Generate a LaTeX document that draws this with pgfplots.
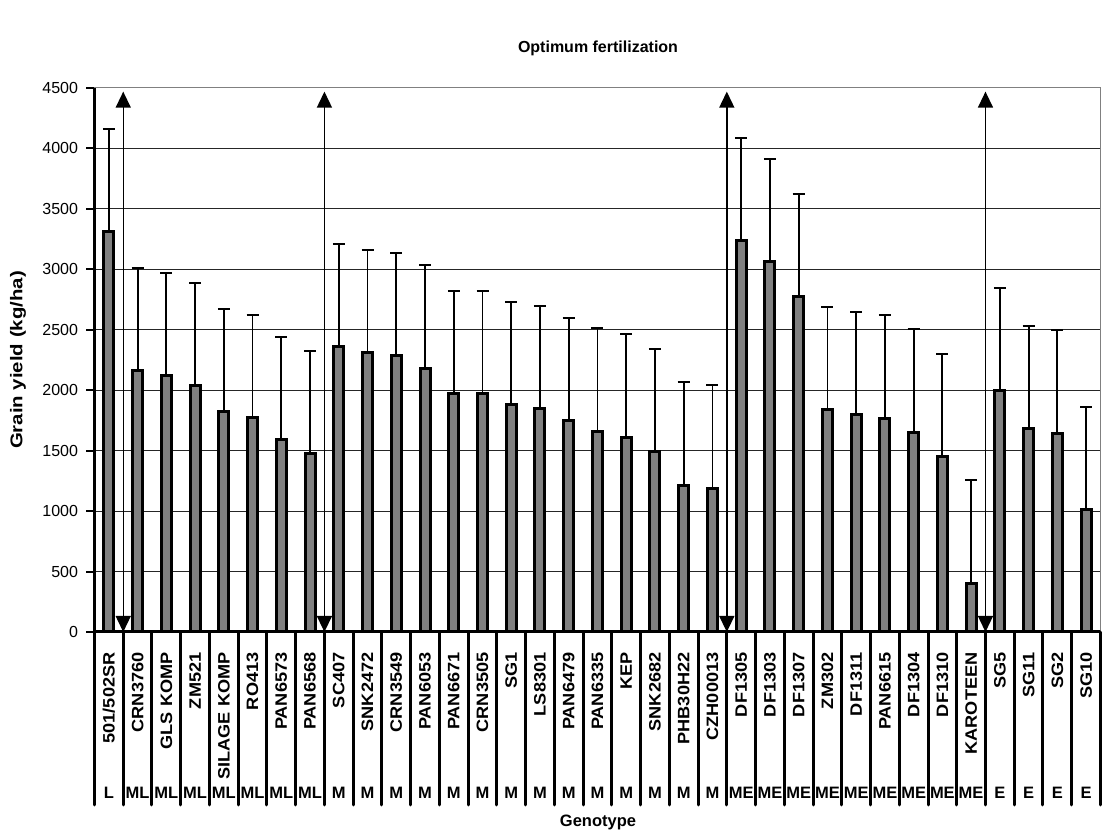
\documentclass[border=0pt]{standalone}
\usepackage{pgfplots}
\pgfplotsset{compat=1.18}
\usepackage{pgfplotstable}
\usepackage{fontspec}
\setmainfont{Liberation Sans}
\usetikzlibrary{arrows.meta}
\definecolor{bargray}{HTML}{808080}

\pgfplotstableread{
x y e
1 3310 850
2 2165 847
3 2118 850
4 2035 853
5 1822 851
6 1778 846
7 1590 850
8 1478 848
9 2360 846
10 2313 847
11 2288 845
12 2182 850
13 1972 849
14 1970 850
15 1878 849
16 1850 848
17 1750 848
18 1662 852
19 1613 852
20 1490 851
21 1215 851
22 1190 850
23 3240 850
24 3062 848
25 2778 845
26 1838 848
27 1797 850
28 1770 850
29 1652 852
30 1450 850
31 402 853
32 1995 853
33 1683 851
34 1645 851
35 1010 852
}\datatable

\newcommand\grp[2]{\node[font=\fontsize{16.5}{18}\selectfont\bfseries, yshift=-161pt] at (axis cs:#1,0) {#2};}
\newcommand\cl[1]{\scalebox{1.1}[1]{#1}}

\begin{document}
\begin{tikzpicture}
\useasboundingbox (-94.5pt,-205pt) rectangle (1009.5pt,632pt);
\begin{axis}[
  at={(0pt,0pt)}, anchor=south west,
  scale only axis,
  width=1006pt, height=544pt,
  xmin=0.5, xmax=35.5,
  ymin=0, ymax=4500,
  ytick={0,500,...,4500},
  xtick={1,...,35},
  xticklabels={\cl{501/502SR},\cl{CRN3760},\cl{GLS KOMP},\cl{ZM521},\cl{SILAGE KOMP},\cl{RO413},\cl{PAN6573},\cl{PAN6568},\cl{SC407},\cl{SNK2472},\cl{CRN3549},\cl{PAN6053},\cl{PAN6671},\cl{CRN3505},\cl{SG1},\cl{LS8301},\cl{PAN6479},\cl{PAN6335},\cl{KEP},\cl{SNK2682},\cl{PHB30H22},\cl{CZH00013},\cl{DF1305},\cl{DF1303},\cl{DF1307},\cl{ZM302},\cl{DF1311},\cl{PAN6615},\cl{DF1304},\cl{DF1310},\cl{KAROTEEN},\cl{SG5},\cl{SG11},\cl{SG2},\cl{SG10}},
  axis lines*=left,
  axis line style={line width=3pt, black},
  x tick style={draw=none},
  y tick style={line width=2pt, black},
  tick align=outside,
  major tick length=8pt,
  ymajorgrids,
  grid style={line width=1pt, black!85},
  /pgf/number format/assume math mode=true,
  /pgf/number format/1000 sep={},
  yticklabel style={font=\fontsize{16}{18}\selectfont, anchor=east, xshift=-5pt},
  xticklabel style={font=\fontsize{16.5}{18}\selectfont\bfseries, rotate=90, anchor=east},
  xticklabel shift=9pt,
  scaled y ticks=false,
  clip=false,
  ybar, bar width=10pt,
]
\addplot[fill=bargray, draw=black, line width=3pt,
  error bars/.cd, y dir=plus, y explicit,
  error bar style={line width=1.8pt, black},
  error mark options={rotate=90, mark size=6pt, line width=2pt, black}]
  table[x=x, y=y, y error=e] {\datatable};

\draw[gray, line width=1pt] (rel axis cs:0,1) -- (rel axis cs:1,1) -- (rel axis cs:1,0);

\pgfplotsinvokeforeach{0,...,35}{
  \draw[line width=3pt, line cap=round] (axis cs:#1.5,0) -- ([yshift=-173pt]axis cs:#1.5,0);
}

\draw[line width=1.4pt, {Triangle[length=16pt,width=15pt]}-{Triangle[length=16pt,width=15pt]}] (axis cs:1.5,0) -- (axis cs:1.5,4470);
\draw[line width=1.4pt, {Triangle[length=16pt,width=15pt]}-{Triangle[length=16pt,width=15pt]}] (axis cs:8.5,0) -- (axis cs:8.5,4470);
\draw[line width=1.4pt, {Triangle[length=16pt,width=15pt]}-{Triangle[length=16pt,width=15pt]}] (axis cs:22.5,0) -- (axis cs:22.5,4470);
\draw[line width=1.4pt, {Triangle[length=16pt,width=15pt]}-{Triangle[length=16pt,width=15pt]}] (axis cs:31.5,0) -- (axis cs:31.5,4470);

\grp{1}{L}
\grp{2}{ML}\grp{3}{ML}\grp{4}{ML}\grp{5}{ML}\grp{6}{ML}\grp{7}{ML}\grp{8}{ML}
\grp{9}{M}\grp{10}{M}\grp{11}{M}\grp{12}{M}\grp{13}{M}\grp{14}{M}\grp{15}{M}
\grp{16}{M}\grp{17}{M}\grp{18}{M}\grp{19}{M}\grp{20}{M}\grp{21}{M}\grp{22}{M}
\grp{23}{ME}\grp{24}{ME}\grp{25}{ME}\grp{26}{ME}\grp{27}{ME}\grp{28}{ME}\grp{29}{ME}\grp{30}{ME}\grp{31}{ME}
\grp{32}{E}\grp{33}{E}\grp{34}{E}\grp{35}{E}
\end{axis}
\node[font=\fontsize{16}{18}\selectfont\bfseries] at (503.5pt,584pt) {Optimum fertilization};
\node[font=\fontsize{16.5}{18}\selectfont\bfseries] at (503.5pt,-190pt) {Genotype};
\node[font=\fontsize{17}{18}\selectfont\bfseries, rotate=90] at (-76.5pt,272pt) {\scalebox{1.2}[1]{Grain yield (kg/ha)}};
\end{tikzpicture}
\end{document}
